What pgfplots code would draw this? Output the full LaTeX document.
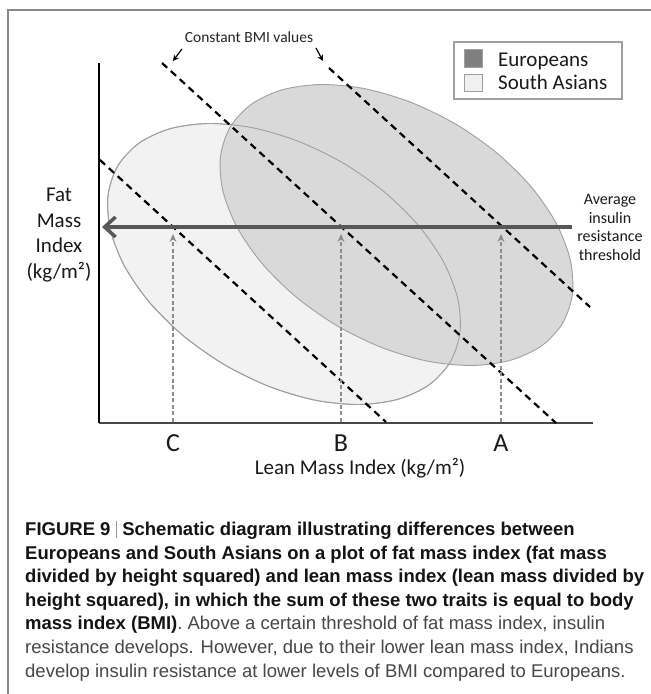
\documentclass[border=0pt]{standalone}
\usepackage{pgfplots}
\usepackage{pgfplotstable}
\pgfplotsset{compat=1.18}
\usepackage{fontspec}
\setmainfont{Carlito}
\newfontfamily\capfont{Liberation Sans}
\usetikzlibrary{arrows.meta}
\definecolor{eur}{HTML}{D9D9D9}
\definecolor{sa}{HTML}{F2F2F2}
\definecolor{edge}{HTML}{A0A0A0}
\definecolor{eurleg}{HTML}{7F7F7F}
\definecolor{saleg}{HTML}{F0F0F0}
\definecolor{thr}{HTML}{585858}
\definecolor{vgray}{HTML}{8C8C8C}
\definecolor{frame}{HTML}{888888}

% Europeans ellipse outline
\pgfplotstableread{
x y
562.8 371.1
541.8 348.3
510.8 333.8
472.1 328.5
428.2 332.7
382.2 346.3
337.1 368.2
296.1 397.0
261.9 430.7
236.9 467.0
222.8 503.4
220.5 537.5
230.2 567.0
251.3 589.7
282.2 604.2
320.9 609.5
364.8 605.3
410.8 591.7
455.9 569.8
496.9 541.0
531.1 507.3
556.1 471.0
570.2 434.6
572.5 400.5
}\eurtable

% South Asians ellipse outline
\pgfplotstableread{
x y
450.3 332.1
429.3 309.3
398.3 294.8
359.6 289.5
315.7 293.7
269.7 307.3
224.6 329.2
183.6 358.0
149.4 391.7
124.4 428.0
110.3 464.4
108.0 498.5
117.7 528.0
138.8 550.7
169.7 565.2
208.4 570.5
252.3 566.3
298.3 552.7
343.4 530.8
384.4 502.0
418.6 468.3
443.6 432.0
457.7 395.6
460.0 361.5
}\satable

\begin{document}
\begin{tikzpicture}
\path[use as bounding box] (0,0) rectangle (651pt,694pt);
\fill[white] (0,0) rectangle (651pt,694pt);
\draw[frame, line width=1.2pt] (8pt,0pt) -- (8pt,684pt) -- (651pt,684pt);

\begin{axis}[
  at={(99pt,271pt)}, anchor=south west,
  scale only axis, width=494pt, height=360pt,
  xmin=99, xmax=593, ymin=271, ymax=631,
  axis lines=left, axis line style={-},
  x axis line style={draw=black!72, line width=2pt},
  y axis line style={draw=black, line width=2pt},
  ticks=none, clip=false,
]
% ellipses
\addplot[fill=sa, draw=edge, line width=0.9pt, smooth cycle] table {\satable};
\addplot[fill=eur, draw=edge, line width=0.9pt, smooth cycle] table {\eurtable};
\addplot[draw=edge, fill=none, line width=0.9pt, smooth cycle] table {\satable};

% constant BMI lines
\addplot[black, line width=2.2pt, dash pattern=on 7pt off 5pt] coordinates {(100,534) (386,272)};
\addplot[black, line width=2.2pt, dash pattern=on 7pt off 5pt] coordinates {(162,631) (556,271)};
\addplot[black, line width=2.2pt, dash pattern=on 7pt off 5pt] coordinates {(329,626) (590,387)};

% vertical arrows C, B, A
\addplot[vgray, line width=1.3pt, dash pattern=on 4pt off 2.5pt, -{Stealth[length=8pt,width=7pt]}] coordinates {(173,272) (173,460)};
\addplot[vgray, line width=1.3pt, dash pattern=on 4pt off 2.5pt, -{Stealth[length=8pt,width=7pt]}] coordinates {(341,272) (341,460)};
\addplot[vgray, line width=1.3pt, dash pattern=on 4pt off 2.5pt, -{Stealth[length=8pt,width=7pt]}] coordinates {(501,272) (501,460)};

% insulin resistance threshold
\addplot[thr, line width=4.5pt, -{Straight Barb[length=11pt,width=20pt,line width=3.5pt]}] coordinates {(572,467) (102,467)};

% annotations
\node[anchor=base, inner sep=0pt, text=black!85, font=\fontsize{15.5}{18}\selectfont] at (axis cs:249,651.1) {Constant BMI values};
\draw[black, line width=1.2pt, -{Stealth[length=6pt,width=6pt]}] (axis cs:182,645) -- (axis cs:173,633);
\draw[black, line width=1.2pt, -{Stealth[length=6pt,width=6pt]}] (axis cs:316,646) -- (axis cs:323,633);

\node[anchor=base, inner sep=0pt, text=black!90, font=\fontsize{21}{25}\selectfont] at (axis cs:59,492.4) {Fat};
\node[anchor=base, inner sep=0pt, text=black!90, font=\fontsize{21}{25}\selectfont] at (axis cs:59,466.7) {Mass};
\node[anchor=base, inner sep=0pt, text=black!90, font=\fontsize{21}{25}\selectfont] at (axis cs:59,441.0) {Index};
\node[anchor=base, inner sep=0pt, text=black!90, font=\fontsize{21}{25}\selectfont] at (axis cs:59,415.3) {(kg/m²)};

\node[anchor=base, inner sep=0pt, text=black!90, font=\fontsize{16}{19}\selectfont] at (axis cs:610,489.5) {Average};
\node[anchor=base, inner sep=0pt, text=black!90, font=\fontsize{16}{19}\selectfont] at (axis cs:610,470.8) {insulin};
\node[anchor=base, inner sep=0pt, text=black!90, font=\fontsize{16}{19}\selectfont] at (axis cs:610,452.1) {resistance};
\node[anchor=base, inner sep=0pt, text=black!90, font=\fontsize{16}{19}\selectfont] at (axis cs:610,433.4) {threshold};

\node[anchor=base, inner sep=0pt, text=black!90, font=\fontsize{26}{30}\selectfont] at (axis cs:173,242.8) {C};
\node[anchor=base, inner sep=0pt, text=black!90, font=\fontsize{26}{30}\selectfont] at (axis cs:341,242.8) {B};
\node[anchor=base, inner sep=0pt, text=black!90, font=\fontsize{26}{30}\selectfont] at (axis cs:501,242.8) {A};
\node[anchor=base, inner sep=0pt, text=black!90, font=\fontsize{21}{25}\selectfont] at (axis cs:360,219.3) {Lean Mass Index (kg/m²)};

% legend
\draw[edge, line width=1.3pt, fill=white] (axis cs:454,652) rectangle (axis cs:622,595);
\draw[edge, line width=1pt, fill=eurleg] (axis cs:464,644) rectangle (axis cs:482,626);
\draw[edge, line width=1pt, fill=saleg] (axis cs:464,619) rectangle (axis cs:482,602);
\node[anchor=base west, inner sep=0pt, text=black!90, font=\fontsize{21}{25}\selectfont] at (axis cs:498,627.4) {Europeans};
\node[anchor=base west, inner sep=0pt, text=black!90, font=\fontsize{21}{25}\selectfont] at (axis cs:498,604.4) {South Asians};
\end{axis}

% caption
\begin{scope}[every node/.style={anchor=base west, inner sep=0pt, font=\capfont\fontsize{18.5}{23.6}\selectfont}]
\node[text=black!92] at (25pt,158.4pt) {\bfseries FIGURE 9\hspace{5.5pt}\textcolor{black!40}{\rule[-2.5pt]{0.8pt}{17pt}}\hspace{5.5pt}Schematic diagram illustrating differences between};
\node[text=black!92] at (25pt,134.8pt) {\bfseries Europeans and South Asians on a plot of fat mass index (fat mass};
\node[text=black!92] at (25pt,111.2pt) {\bfseries divided by height squared) and lean mass index (lean mass divided by};
\node[text=black!92] at (25pt,87.6pt) {\bfseries height squared), in which the sum of these two traits is equal to body};
\node[text=black!72] at (25pt,64.0pt) {{\bfseries\color{black!92}mass index (BMI)}. Above a certain threshold of fat mass index, insulin};
\node[text=black!72] at (25pt,40.4pt) {resistance develops. However, due to their lower lean mass index, Indians};
\node[text=black!72] at (25pt,16.8pt) {develop insulin resistance at lower levels of BMI compared to Europeans.};
\end{scope}
\end{tikzpicture}
\end{document}
